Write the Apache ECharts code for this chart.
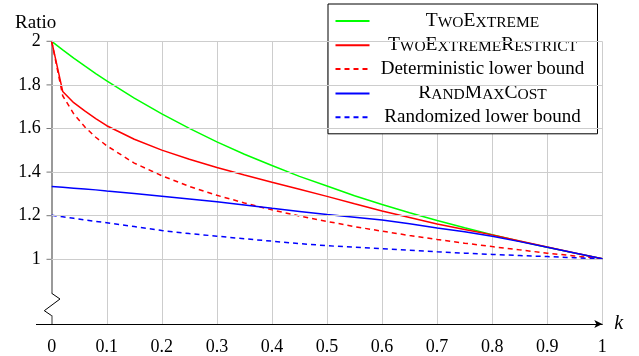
<!DOCTYPE html>
<html>
<head>
<meta charset="utf-8">
<script src="https://cdn.jsdelivr.net/npm/echarts@6/dist/echarts.min.js"></script>
<style>
  html, body { margin: 0; padding: 0; background: #fff; }
  #chart { width: 639px; height: 356px; }
</style>
</head>
<body>
<div id="chart"></div>
<script>
// k values shared by all curves
const kValues = [0, 0.02, 0.04, 0.06, 0.08, 0.1, 0.15, 0.2, 0.25, 0.3, 0.35, 0.4, 0.45, 0.5, 0.55, 0.6, 0.65, 0.7, 0.75, 0.8, 0.85, 0.9, 0.95, 1]
const twoExtreme = [2, 1.961, 1.923, 1.887, 1.852, 1.818, 1.739, 1.667, 1.600, 1.538, 1.481, 1.429, 1.379, 1.335, 1.290, 1.250, 1.212, 1.176, 1.143, 1.111, 1.081, 1.053, 1.026, 1]
const twoExtremeRestrict = [2, 1.77, 1.718, 1.68, 1.645, 1.612, 1.55, 1.50, 1.458, 1.42, 1.385, 1.352, 1.32, 1.287, 1.253, 1.22, 1.19, 1.16, 1.135, 1.11, 1.082, 1.054, 1.027, 1]
const detLowerBound = [2, 1.75, 1.667, 1.607, 1.559, 1.52, 1.44, 1.382, 1.333, 1.292, 1.257, 1.225, 1.197, 1.172, 1.148, 1.127, 1.107, 1.089, 1.072, 1.056, 1.041, 1.026, 1.013, 1]
const randMaxCost = [1.333, 1.329, 1.325, 1.321, 1.317, 1.312, 1.300, 1.288, 1.275, 1.262, 1.247, 1.232, 1.218, 1.204, 1.191, 1.178, 1.161, 1.142, 1.124, 1.104, 1.079, 1.053, 1.027, 1]
const randLowerBound = [1.2, 1.193, 1.186, 1.179, 1.172, 1.166, 1.148, 1.13, 1.116, 1.104, 1.092, 1.081, 1.07, 1.06, 1.053, 1.046, 1.039, 1.032, 1.026, 1.02, 1.015, 1.01, 1.005, 1]
const yTickLabels = [1, 1.2, 1.4, 1.6, 1.8, 2]

const serif = "'Liberation Serif', 'DejaVu Serif', serif"
const smallCapsNames = ['TwoExtreme', 'TwoExtremeRestrict', 'RandMaxCost']

function toPairs(vals) {
    return kValues.map((k, i) => [k, vals[i]])
}

// fake small caps with two font sizes
function legendText(name) {
    if (smallCapsNames.indexOf(name) < 0) return '{n|' + name + '}'
    let out = ''
    for (const ch of name) {
        if (ch === ch.toUpperCase()) out += '{b|' + ch + '}'
        else out += '{s|' + ch.toUpperCase() + '}'
    }
    return out
}

function lineSeries(name, vals, color, dashed) {
    return {
        name: name,
        type: 'line',
        data: toPairs(vals),
        showSymbol: false,
        symbol: 'none',
        smooth: false,
        z: 3,
        lineStyle: { color: color, width: 1.5, type: dashed ? [5, 4] : 'solid' },
        itemStyle: { color: color }
    }
}

const chart = echarts.init(document.getElementById('chart'))
chart.setOption({
    animation: false,
    backgroundColor: '#fff',
    textStyle: { fontFamily: serif },
    grid: { left: 51.7, right: 36.7, top: 41.4, bottom: 31.7, containLabel: false },
    legend: {
        data: ['TwoExtreme', 'TwoExtremeRestrict', 'Deterministic lower bound', 'RandMaxCost', 'Randomized lower bound'],
        orient: 'vertical',
        left: 328,
        top: 4,
        padding: [6.5, 7, 6.5, 6.5],
        itemWidth: 34,
        itemHeight: 14,
        itemGap: 4.2,
        backgroundColor: '#fff',
        borderColor: '#000',
        borderWidth: 1,
        borderRadius: 0,
        itemStyle: { opacity: 0 },
        formatter: legendText,
        textStyle: {
            width: 216,
            lineHeight: 20,
            color: '#000',
            fontFamily: serif,
            rich: {
                n: { fontSize: 19, fontFamily: serif, align: 'center', lineHeight: 20, color: '#000' },
                b: { fontSize: 19.5, fontFamily: serif, align: 'center', verticalAlign: 'bottom', lineHeight: 19, color: '#000' },
                s: { fontSize: 15.5, fontFamily: serif, align: 'center', verticalAlign: 'bottom', lineHeight: 18, color: '#000' }
            }
        }
    },
    xAxis: {
        type: 'value',
        min: 0,
        max: 1,
        interval: 0.1,
        name: 'k',
        nameLocation: 'end',
        nameGap: 12,
        nameTextStyle: { fontFamily: serif, fontStyle: 'italic', fontSize: 20, color: '#000', verticalAlign: 'middle' },
        axisLine: { onZero: false, lineStyle: { color: '#000', width: 1 }, symbol: ['none', 'arrow'], symbolSize: [6, 8] },
        axisTick: { show: false },
        axisLabel: { fontFamily: serif, fontSize: 18, color: '#000', margin: 14 },
        splitLine: { show: true, lineStyle: { color: '#cdcdcd', width: 1 } }
    },
    yAxis: {
        type: 'value',
        min: 0.7,
        max: 2,
        interval: 0.1,
        name: 'Ratio',
        nameLocation: 'end',
        nameGap: 17,
        nameTextStyle: { fontFamily: serif, fontSize: 19, color: '#000', align: 'center', verticalAlign: 'middle', padding: [9, 32, 0, 0] },
        axisLine: { show: true, onZero: false, lineStyle: { color: '#9a9a9a', width: 2 } },
        axisTick: { show: false },
        axisLabel: {
            fontFamily: serif,
            fontSize: 18,
            color: '#000',
            margin: 11,
            formatter: function (v) {
                const hit = yTickLabels.some(t => Math.abs(t - v) < 1e-6)
                return hit ? String(+v.toFixed(1)) : ''
            }
        },
        splitLine: { show: false }
    },
    series: [
        {
            name: 'grid',
            type: 'line',
            data: [],
            z: 1,
            silent: true,
            markLine: {
                silent: true,
                symbol: 'none',
                label: { show: false },
                lineStyle: { color: '#cdcdcd', width: 1, type: 'solid' },
                emphasis: { disabled: true },
                data: yTickLabels.map(v => ({ yAxis: v }))
            }
        },
        lineSeries('TwoExtreme', twoExtreme, '#00ff00', false),
        lineSeries('TwoExtremeRestrict', twoExtremeRestrict, '#ff0000', false),
        lineSeries('Deterministic lower bound', detLowerBound, '#ff0000', true),
        lineSeries('RandMaxCost', randMaxCost, '#0000ff', false),
        lineSeries('Randomized lower bound', randLowerBound, '#0000ff', true)
    ],
    graphic: [
        // axis break on the y axis
        { type: 'rect', z: 100, shape: { x: 48, y: 293.5, width: 8, height: 22 }, style: { fill: '#fff' } },
        { type: 'polyline', z: 101, shape: { points: [[51.7, 293.3], [60, 299], [44.3, 310.7], [51.7, 315.7]] }, style: { stroke: '#000', lineWidth: 1, fill: null } },
        // x axis runs a little left of the origin
        { type: 'line', z: 100, shape: { x1: 36, y1: 324.5, x2: 52, y2: 324.5 }, style: { stroke: '#000', lineWidth: 1 } },
        // short y ticks at the labelled values
        ...yTickLabels.map(v => ({
            type: 'line', z: 100,
            shape: { x1: 46.5, y1: 259.3 - (v - 1) * 218, x2: 51, y2: 259.3 - (v - 1) * 218 },
            style: { stroke: '#777', lineWidth: 1 }
        }))
    ]
})
</script>
</body>
</html>
